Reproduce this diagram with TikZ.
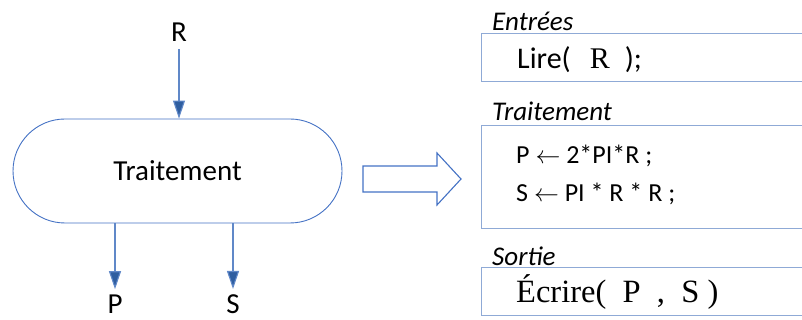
\documentclass[tikz,border=0pt]{standalone}
\usepackage{fontspec}
\setmainfont{Carlito}
\newfontfamily\tnr{Liberation Serif}
\usetikzlibrary{arrows.meta,shapes.misc}
\definecolor{boxline}{RGB}{143,170,214}
\definecolor{procline}{RGB}{68,114,196}
\definecolor{arrline}{RGB}{96,136,200}
\definecolor{arrfill}{RGB}{47,94,160}
\tikzset{
  lbl/.style={font=\fontsize{29}{34}\selectfont, inner sep=0pt, anchor=base},
  hdr/.style={font=\fontsize{27}{32}\selectfont\itshape, inner sep=0pt, anchor=base west},
  code/.style={font=\fontsize{26}{31}\selectfont, inner sep=0pt, anchor=base west},
  cbox/.style={draw=boxline, line width=1.4pt, anchor=north west, inner sep=0pt},
  flow/.style={draw=arrline, line width=1.1pt, -{Triangle[length=18pt,width=12pt,fill=arrfill]}},
}
\begin{document}
\begin{tikzpicture}[x=1pt,y=-1pt]
\useasboundingbox (0,0) rectangle (802,320);
% left flowchart
\node[draw=procline, line width=0.9pt, rounded rectangle, minimum width=329pt, minimum height=104pt,
      inner sep=0pt, font=\fontsize{29}{34}\selectfont] (proc) at (177.5,171) {Traitement};
\node[lbl] (R) at (179,42) {R};
\node[lbl] (P) at (115,313) {P};
\node[lbl] (S) at (233,313) {S};
\draw[flow] ([yshift=-7pt]R.south) -- (proc.north -| R);
\draw[flow] (proc.south -| P) -- ([yshift=5pt]P.north);
\draw[flow] (proc.south -| S) -- ([yshift=5pt]S.north);
% hollow arrow
\draw[draw=procline, line width=1.1pt] (363,166) -- (437,166) -- (437,153) -- (461,179) -- (437,205) -- (437,192) -- (363,192) -- cycle;
% right boxes
\node[cbox, minimum width=330pt, minimum height=48pt] (inbox) at (481,33) {};
\node[cbox, minimum width=330pt, minimum height=103pt] (trbox) at (481,125) {};
\node[cbox, minimum width=330pt, minimum height=48pt] (outbox) at (481,267) {};
\node[hdr] (hin) at (492,31) {Entrées};
\node[hdr] (htr) at (492,121) {Traitement};
\node[hdr] (hout) at (492,265) {Sortie};
\node[lbl, anchor=base west, font=\fontsize{30}{35}\selectfont] (lire) at (517,69) {Lire(\hspace{19pt}{\tnr R}\hspace{15pt});};
\node[code] (l1) at (516,164) {P $\leftarrow$ 2*PI*R ;};
\node[code] (l2) at (516,202) {S $\leftarrow$ PI * R * R ;};
\node[lbl, anchor=base west, font=\fontsize{32.5}{38}\selectfont\tnr] (ecr) at (516,302) {Écrire(\ \ P \ ,\ \ S )};
\end{tikzpicture}
\end{document}
